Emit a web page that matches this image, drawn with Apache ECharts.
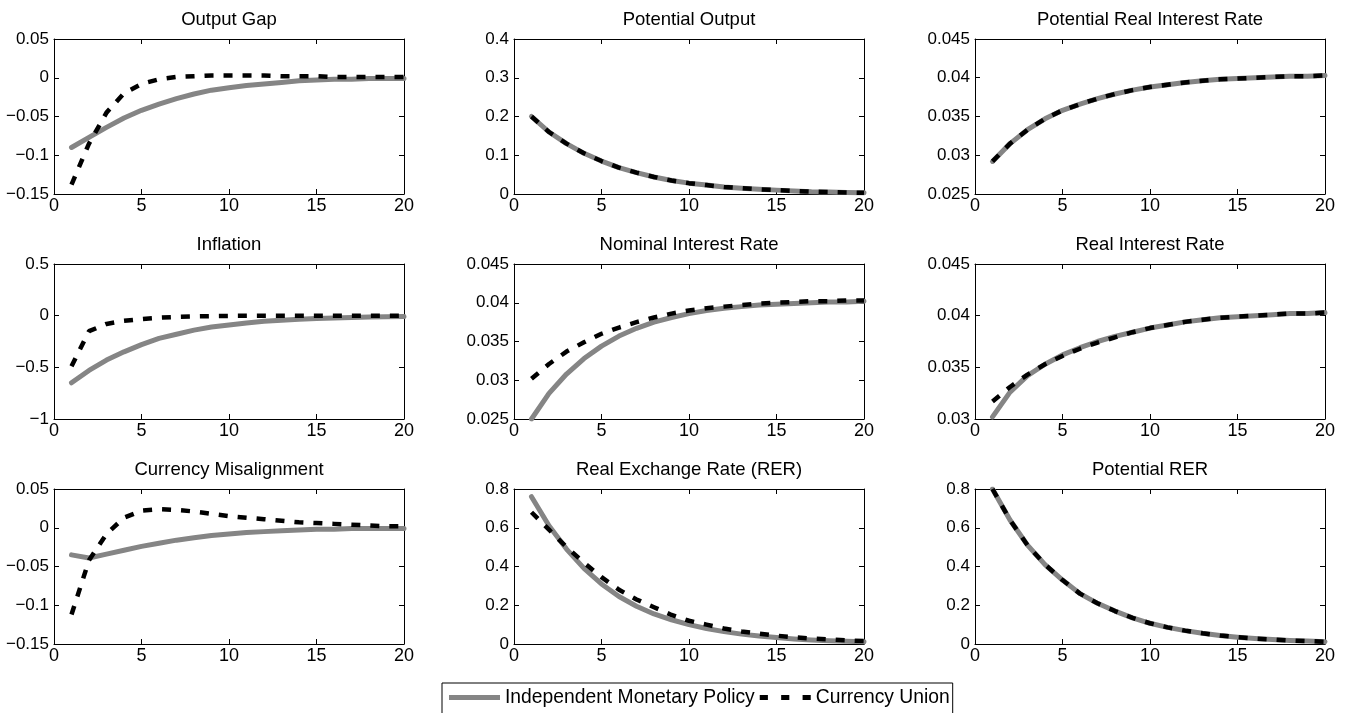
<!DOCTYPE html>
<html><head><meta charset="utf-8">
<script src="https://cdn.jsdelivr.net/npm/echarts@6/dist/echarts.min.js"></script>
<style>html,body{margin:0;padding:0;background:#fff}#c{width:1348px;height:713px}</style>
</head><body><div id="c"></div>
<script>
const periods = [1,2,3,4,5,6,7,8,9,10,11,12,13,14,15,16,17,18,19,20];
const titles = ['Output Gap','Potential Output','Potential Real Interest Rate','Inflation','Nominal Interest Rate','Real Interest Rate','Currency Misalignment','Real Exchange Rate (RER)','Potential RER'];
const seriesNames = ['Independent Monetary Policy','Currency Union'];
const xTicks = [0, 20, 5];           // min, max, step
const yMin  = [-0.15, 0,   0.025, -1,  0.025, 0.03,  -0.15, 0,   0];
const yMax  = [0.05,  0.4, 0.045, 0.5, 0.045, 0.045, 0.05,  0.8, 0.8];
const yStep = [0.05,  0.1, 0.005, 0.5, 0.005, 0.005, 0.05,  0.2, 0.2];

const outputGapIMP = [-0.090,-0.077,-0.064,-0.052,-0.042,-0.034,-0.027,-0.021,-0.016,-0.013,-0.010,-0.008,-0.006,-0.004,-0.003,-0.002,-0.002,-0.001,-0.001,-0.001];
const outputGapCU  = [-0.138,-0.085,-0.045,-0.020,-0.008,-0.002,0.001,0.002,0.003,0.003,0.003,0.003,0.002,0.002,0.002,0.001,0.001,0.001,0.001,0.001];
const potOutputIMP = [0.200,0.160,0.130,0.105,0.085,0.068,0.055,0.044,0.035,0.028,0.023,0.018,0.015,0.012,0.010,0.008,0.006,0.005,0.004,0.003];
const potOutputCU  = [0.200,0.160,0.130,0.105,0.085,0.068,0.055,0.044,0.035,0.028,0.023,0.018,0.015,0.012,0.010,0.008,0.006,0.005,0.004,0.003];
const potRateIMP = [0.0292,0.0315,0.0333,0.0347,0.0358,0.0366,0.0373,0.0379,0.0384,0.0388,0.0391,0.0394,0.0396,0.0398,0.0399,0.0400,0.0401,0.0402,0.0402,0.0403];
const potRateCU  = [0.0292,0.0315,0.0333,0.0347,0.0358,0.0366,0.0373,0.0379,0.0384,0.0388,0.0391,0.0394,0.0396,0.0398,0.0399,0.0400,0.0401,0.0402,0.0402,0.0403];
const inflationIMP = [-0.65,-0.53,-0.43,-0.35,-0.28,-0.22,-0.18,-0.14,-0.11,-0.09,-0.07,-0.055,-0.045,-0.035,-0.028,-0.022,-0.018,-0.014,-0.011,-0.009];
const inflationCU  = [-0.49,-0.15,-0.08,-0.05,-0.033,-0.02,-0.012,-0.007,-0.004,-0.002,-0.001,0,0,0,0,0,0,0,0,0];
const nomRateIMP = [0.0250,0.0283,0.0308,0.0328,0.0344,0.0357,0.0367,0.0375,0.0381,0.0386,0.0390,0.0393,0.0395,0.0397,0.0398,0.0399,0.0400,0.0401,0.0401,0.0402];
const nomRateCU  = [0.0302,0.0321,0.0337,0.0349,0.0360,0.0368,0.0375,0.0381,0.0386,0.0390,0.0393,0.0395,0.0397,0.0399,0.0400,0.0401,0.0402,0.0402,0.0403,0.0403];
const realRateIMP = [0.0302,0.0326,0.0342,0.0353,0.0362,0.0369,0.0375,0.0380,0.0384,0.0388,0.0391,0.0394,0.0396,0.0398,0.0399,0.0400,0.0401,0.0402,0.0402,0.0403];
const realRateCU  = [0.0317,0.0331,0.0343,0.0353,0.0361,0.0368,0.0374,0.0379,0.0384,0.0388,0.0391,0.0394,0.0396,0.0398,0.0399,0.0400,0.0401,0.0402,0.0402,0.0403];
const misalignIMP = [-0.035,-0.039,-0.034,-0.029,-0.024,-0.020,-0.016,-0.013,-0.010,-0.008,-0.006,-0.005,-0.004,-0.003,-0.002,-0.002,-0.001,-0.001,-0.001,-0.001];
const misalignCU  = [-0.112,-0.042,-0.008,0.013,0.022,0.024,0.023,0.021,0.018,0.015,0.013,0.011,0.009,0.007,0.006,0.005,0.004,0.003,0.002,0.002];
const rerIMP = [0.76,0.61,0.49,0.39,0.31,0.245,0.195,0.155,0.125,0.100,0.080,0.064,0.051,0.041,0.033,0.026,0.021,0.017,0.014,0.011];
const rerCU  = [0.68,0.59,0.50,0.42,0.345,0.28,0.23,0.19,0.15,0.12,0.10,0.08,0.065,0.053,0.043,0.035,0.028,0.023,0.019,0.015];
const potRerIMP = [0.80,0.64,0.51,0.41,0.33,0.26,0.21,0.17,0.135,0.107,0.086,0.069,0.055,0.044,0.035,0.028,0.023,0.018,0.015,0.012];
const potRerCU  = [0.80,0.64,0.51,0.41,0.33,0.26,0.21,0.17,0.135,0.107,0.086,0.069,0.055,0.044,0.035,0.028,0.023,0.018,0.015,0.012];

const panelIMP = [outputGapIMP, potOutputIMP, potRateIMP, inflationIMP, nomRateIMP, realRateIMP, misalignIMP, rerIMP, potRerIMP];
const panelCU  = [outputGapCU, potOutputCU, potRateCU, inflationCU, nomRateCU, realRateCU, misalignCU, rerCU, potRerCU];

const FONT = "'Liberation Sans', Arial, Helvetica, sans-serif";
const colLeft = [54, 514, 975], rowTop = [39, 264, 489], W = 350, H = 155;
const fmt = v => { const s = String(+(+v).toFixed(4)); return s.replace('-', '\u2212'); };

const grids = [], xAxes = [], yAxes = [], series = [], titleArr = [];
const tick = { show: true, inside: true, length: 5, lineStyle: { color: '#000', width: 1 } };
const line = { show: true, onZero: false, lineStyle: { color: '#000', width: 1 } };
for (let i = 0; i < 9; i++) {
  const r = Math.floor(i / 3), c = i % 3;
  const left = colLeft[c], top = rowTop[r];
  grids.push({ left: left, top: top, width: W, height: H, containLabel: false });
  titleArr.push({ text: titles[i], left: left + W / 2, top: top - 29, textAlign: 'center', padding: 0,
    textStyle: { fontFamily: FONT, fontSize: 18.5, fontWeight: 'normal', color: '#000' } });
  xAxes.push({ gridIndex: i, type: 'value', position: 'bottom', min: xTicks[0], max: xTicks[1], interval: xTicks[2],
    axisLine: line, axisTick: tick, splitLine: { show: false },
    axisLabel: { color: '#000', fontFamily: FONT, fontSize: 18, margin: 3, showMinLabel: true, showMaxLabel: true } });
  xAxes.push({ gridIndex: i, type: 'value', position: 'top', min: xTicks[0], max: xTicks[1], interval: xTicks[2],
    axisLine: line, axisTick: tick, splitLine: { show: false }, axisLabel: { show: false } });
  yAxes.push({ gridIndex: i, type: 'value', position: 'left', min: yMin[i], max: yMax[i], interval: yStep[i],
    axisLine: line, axisTick: tick, splitLine: { show: false },
    axisLabel: { color: '#000', fontFamily: FONT, fontSize: 17, margin: 5, formatter: fmt, showMinLabel: true, showMaxLabel: true } });
  yAxes.push({ gridIndex: i, type: 'value', position: 'right', min: yMin[i], max: yMax[i], interval: yStep[i],
    axisLine: line, axisTick: tick, splitLine: { show: false }, axisLabel: { show: false } });
  series.push({ name: seriesNames[0], type: 'line', xAxisIndex: 2 * i, yAxisIndex: 2 * i, symbol: 'none', silent: true,
    data: periods.map((p, k) => [p, panelIMP[i][k]]),
    lineStyle: { color: '#858585', width: 5, cap: 'round', join: 'round' }, itemStyle: { color: '#858585' }, z: 2 });
  series.push({ name: seriesNames[1], type: 'line', xAxisIndex: 2 * i, yAxisIndex: 2 * i, symbol: 'none', silent: true,
    data: periods.map((p, k) => [p, panelCU[i][k]]),
    lineStyle: { color: '#000', width: 4.5, type: [9, 10], cap: 'butt' }, itemStyle: { color: '#000' }, z: 3 });
}

const chart = echarts.init(document.getElementById('c'), null, { renderer: 'canvas' });
chart.setOption({
  animation: false,
  backgroundColor: '#fff',
  title: titleArr,
  grid: grids, xAxis: xAxes, yAxis: yAxes, series: series,
  legend: {
    data: [
      { name: seriesNames[0], icon: 'rect', itemStyle: { color: '#858585' } },
      { name: seriesNames[1], icon: 'path://M0,0H8V5H0Z M21,0H29V5H21Z M42,0H50V5H42Z', itemStyle: { color: '#000' } }
    ],
    left: 442, top: 683, orient: 'horizontal', symbolKeepAspect: false,
    itemWidth: 51, itemHeight: 5, itemGap: 5, padding: [5, 3, 12, 7],
    borderColor: '#000', borderWidth: 1, backgroundColor: '#fff',
    selectedMode: false,
    textStyle: { fontFamily: FONT, fontSize: 19.3, color: '#000' }
  }
});
</script></body></html>
